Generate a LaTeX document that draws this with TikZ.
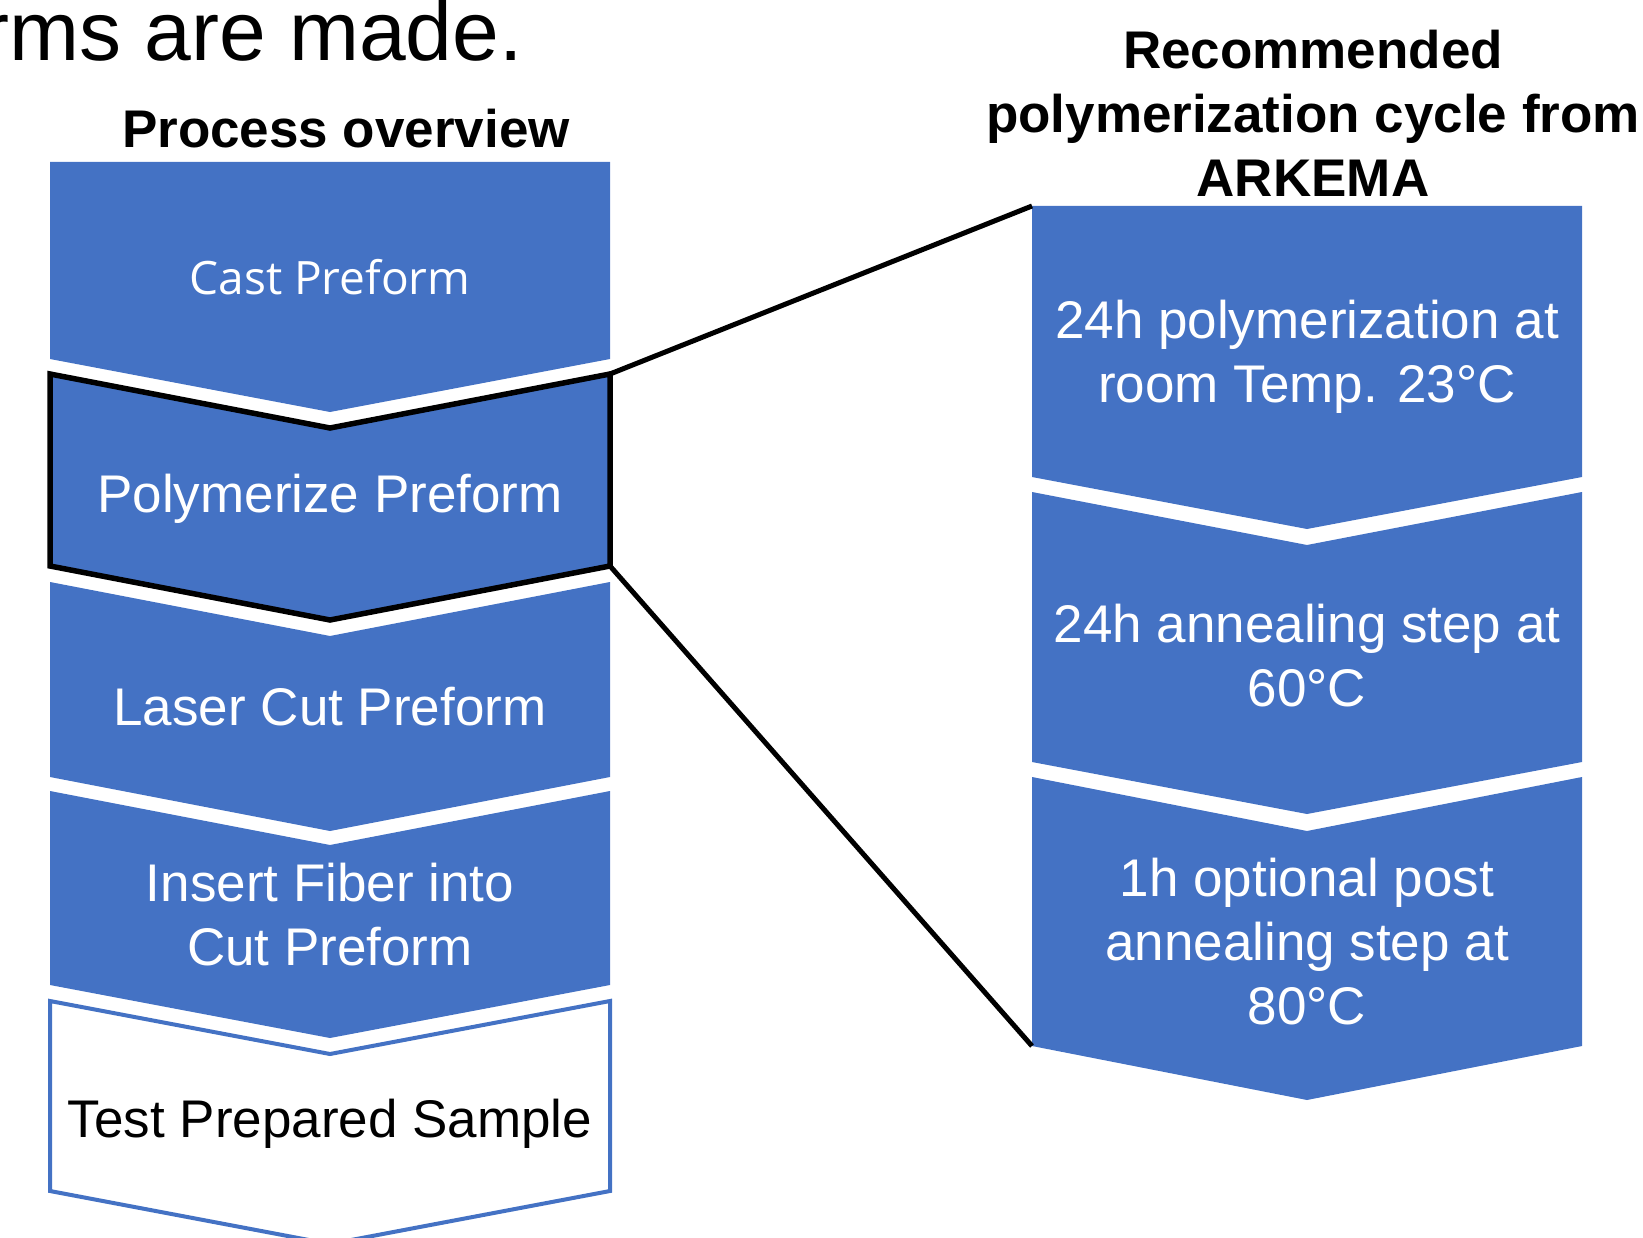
\documentclass[tikz,border=0pt]{standalone}
\usepackage{fontspec}
\setmainfont{Liberation Sans}
\newfontfamily\castfont{Open Sans}
\definecolor{stepblue}{HTML}{4472C4}
\tikzstyle{Chevron} = [fill=stepblue]
\tikzstyle{Open} = [draw=stepblue, line width=4pt, fill=white, line join=miter]
\tikzstyle{Frame} = [draw=black, line width=5.5pt, line join=miter]
\tikzstyle{Link} = [draw=black, line width=5pt]
\tikzstyle{Text} = [text=white, align=center, inner sep=0pt, font=\fontsize{53}{64}\selectfont]
\tikzstyle{Title} = [align=center, inner sep=0pt, font=\fontsize{53}{64}\selectfont\bfseries]

\begin{document}
\begin{tikzpicture}[x=1pt, y=-1pt]
    \useasboundingbox (0,0) rectangle (1643,1238);
    \clip (0,0) rectangle (1643,1238);
    \node[inner sep=0pt, anchor=base east, font=\fontsize{84}{100}\selectfont] (heading) at (523,61) {rms are made.};
    \node[Title] (overview) at (346,129) {Process overview};
    \node[Title] (recommended) at (1313,113) {Recommended\\polymerization cycle from\\ARKEMA};

    % process overview
    \path[Chevron] (50,162) -- (610,162) -- (610,359) -- (330,412) -- (50,359) -- cycle;
    \path[Chevron] (50,374) -- (330,428) -- (610,374) coordinate (poly-ne) -- (610,566) coordinate (poly-se) -- (330,620) -- (50,566) -- cycle;
    \path[Chevron] (50,582) -- (330,636) -- (610,582) -- (610,777) -- (330,831) -- (50,777) -- cycle;
    \path[Chevron] (50,791) -- (330,845) -- (610,791) -- (610,985) -- (330,1038) -- (50,985) -- cycle;
    \path[Open]    (50,1001) -- (330,1054) -- (610,1001) -- (610,1191) -- (330,1244) -- (50,1191) -- cycle;
    \path[Frame]   (50,374) -- (330,428) -- (610,374) -- (610,566) -- (330,620) -- (50,566) -- cycle;

    % polymerization cycle
    \path[Chevron] (1032,206) coordinate (cycle-nw) -- (1582,206) -- (1582,477) -- (1307,529) -- (1032,477) -- cycle;
    \path[Chevron] (1032,492) -- (1307,545) -- (1582,492) -- (1582,762) -- (1307,814) -- (1032,762) -- cycle;
    \path[Chevron] (1032,777) -- (1307,831) -- (1582,777) -- (1582,1046) -- (1307,1100) -- (1032,1046) coordinate (cycle-sw) -- cycle;

    \path[Link] (poly-ne) -- (cycle-nw);
    \path[Link] (poly-se) -- (cycle-sw);

    \node[Text, font=\fontsize{46}{56}\castfont] (cast) at (330,277) {Cast Preform};
    \node[Text] (poly)   at (330,499)  {Polymerize Preform};
    \node[Text] (laser)  at (330,707)  {Laser Cut Preform};
    \node[Text] (insert) at (330,915)  {Insert Fiber into\\Cut Preform};
    \node[Text, text=black] (test) at (330,1124) {Test Prepared Sample};

    \node[Text] (cure)       at (1307,357) {24h polymerization at\\room Temp. 23°C};
    \node[Text] (anneal)     at (1307,656) {24h annealing step at\\60°C};
    \node[Text] (postanneal) at (1307,942) {1h optional post\\annealing step at\\80°C};
\end{tikzpicture}
\end{document}
